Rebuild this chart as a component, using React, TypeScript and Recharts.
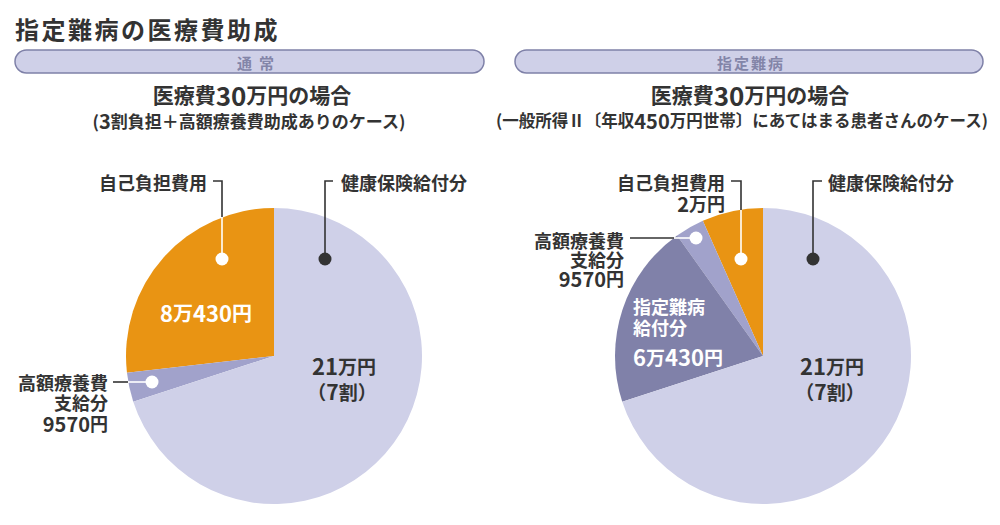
import { Cell, Pie, PieChart } from "recharts"

// 通常 (3割負担＋高額療養費助成)
const normalNames = ["自己負担費用", "高額療養費支給分", "健康保険給付分"]
const normalValues = [80430, 9570, 210000]
const normalColors = ["#e99413", "#a1a2cb", "#cfd0e8"]

// 指定難病 (一般所得Ⅱ)
const nanbyoNames = ["自己負担費用", "高額療養費支給分", "指定難病給付分", "健康保険給付分"]
const nanbyoValues = [20000, 9570, 60430, 210000]
const nanbyoColors = ["#e99413", "#a1a2cb", "#8081a9", "#cfd0e8"]

const normalData = normalNames.map((name, i) => ({ name, value: normalValues[i] }))
const nanbyoData = nanbyoNames.map((name, i) => ({ name, value: nanbyoValues[i] }))

const FONT = "'Noto Sans CJK JP', 'Noto Sans', sans-serif"
const INK = "#333333"
const R = 148

const Pill = ({ x, w, label, tx, ls }: { x: number; w: number; label: string; tx: number; ls: number }) => (
  <g>
    <rect x={x} y={50} width={w} height={23} rx={11.5} fill="#cfd0e8" stroke="#7f81a8" strokeWidth={1.5} />
    <text x={tx} y={62} dominantBaseline="central" fontSize={15} fontWeight={700} fill="#8385a8" letterSpacing={ls}>
      {label}
    </text>
  </g>
)

const Leader = ({ dark, white }: { dark: string; white?: string }) => (
  <g>
    <path d={dark} fill="none" stroke={INK} strokeWidth={1.6} />
    {white && <path d={white} fill="none" stroke="#fff" strokeWidth={1.6} />}
  </g>
)

const Dot = ({ x, y, fill }: { x: number; y: number; fill: string }) => <circle cx={x} cy={y} r={6.5} fill={fill} />

type TProps = { x: number; y: number; size?: number; fill?: string; anchor?: "start" | "middle" | "end"; children: any }
const T = ({ x, y, size = 18, fill = INK, anchor = "start", children }: TProps) => (
  <text x={x} y={y} textAnchor={anchor} dominantBaseline="central" fontSize={size} fill={fill}>
    {children}
  </text>
)

export default function App() {
  return (
    <div style={{ position: "absolute", left: 0, top: 0, width: 1000, height: 525, background: "#fff" }}>
      <PieChart width={1000} height={525} margin={{ top: 0, right: 0, bottom: 0, left: 0 }}>
        <Pie
          data={normalData}
          dataKey="value"
          nameKey="name"
          cx={274}
          cy={356}
          outerRadius={R}
          startAngle={90}
          endAngle={450}
          stroke="none"
          isAnimationActive={false}
        >
          {normalData.map((d, i) => (
            <Cell key={d.name} fill={normalColors[i]} />
          ))}
        </Pie>
        <Pie
          data={nanbyoData}
          dataKey="value"
          nameKey="name"
          cx={763}
          cy={356}
          outerRadius={R}
          startAngle={90}
          endAngle={450}
          stroke="none"
          isAnimationActive={false}
        >
          {nanbyoData.map((d, i) => (
            <Cell key={d.name} fill={nanbyoColors[i]} />
          ))}
        </Pie>
      </PieChart>

      <svg
        width={1000}
        height={525}
        style={{ position: "absolute", left: 0, top: 0, pointerEvents: "none" }}
        fontFamily={FONT}
        fontWeight={700}
      >
        <text x={15} y={28} dominantBaseline="central" fontSize={24} fill={INK} letterSpacing={2.5}>
          指定難病の医療費助成
        </text>

        <Pill x={15} w={469} label="通常" tx={237} ls={7} />
        <Pill x={515} w={468} label="指定難病" tx={717} ls={2} />

        <T x={252} y={94} size={21} anchor="middle">
          医療費<tspan fontSize={26}>30</tspan>万円の場合
        </T>
        <T x={249} y={120} size={17} anchor="middle">
          (<tspan fontSize={20}>3</tspan>割負担＋高額療養費助成ありのケース)
        </T>
        <T x={750} y={94} size={21} anchor="middle">
          医療費<tspan fontSize={26}>30</tspan>万円の場合
        </T>
        <T x={742} y={120} size={16.5} anchor="middle">
          (一般所得Ⅱ〔年収<tspan fontSize={20}>450</tspan>万円世帯〕にあてはまる患者さんのケース)
        </T>

        {/* left pie annotations */}
        <Leader dark="M213,181 H222 V217" white="M222,217 V259" />
        <Dot x={222} y={259} fill="#fff" />
        <T x={207} y={182} anchor="end">自己負担費用</T>
        <Leader dark="M333,181 H325 V259" />
        <Dot x={325} y={259} fill={INK} />
        <T x={341} y={182}>健康保険給付分</T>
        <Leader dark="M113,382 H128" white="M128,382 H152" />
        <Dot x={152} y={382} fill="#fff" />
        <T x={108} y={382} anchor="end">高額療養費</T>
        <T x={108} y={402} anchor="end">支給分</T>
        <T x={108} y={423} size={20} anchor="end">
          9570<tspan fontSize={18}>円</tspan>
        </T>
        <T x={206} y={312} size={20} fill="#fff" anchor="middle">
          <tspan fontSize={22}>8</tspan>万<tspan fontSize={22}>430</tspan>円
        </T>
        <T x={344} y={365} size={19} anchor="middle">
          <tspan fontSize={22}>21</tspan>万円
        </T>
        <T x={342} y={391} size={19} anchor="middle">
          （<tspan fontSize={21}>7</tspan>割）
        </T>

        {/* right pie annotations */}
        <Leader dark="M731,181 H741 V210" white="M741,210 V259" />
        <Dot x={741} y={259} fill="#fff" />
        <T x={725} y={182} anchor="end">自己負担費用</T>
        <T x={725} y={203} anchor="end">
          <tspan fontSize={20}>2</tspan>万円
        </T>
        <Leader dark="M822,181 H813 V259" />
        <Dot x={813} y={259} fill={INK} />
        <T x={828} y={182}>健康保険給付分</T>
        <Leader dark="M630,238 H674" white="M674,238 H696" />
        <Dot x={696} y={238} fill="#fff" />
        <T x={624} y={240} anchor="end">高額療養費</T>
        <T x={624} y={259} anchor="end">支給分</T>
        <T x={624} y={278} size={20} anchor="end">
          9570<tspan fontSize={18}>円</tspan>
        </T>
        <T x={633} y={306} fill="#fff">指定難病</T>
        <T x={633} y={327} fill="#fff">給付分</T>
        <T x={633} y={356} size={19} fill="#fff">
          <tspan fontSize={22}>6</tspan>万<tspan fontSize={22}>430</tspan>円
        </T>
        <T x={832} y={365} size={19} anchor="middle">
          <tspan fontSize={22}>21</tspan>万円
        </T>
        <T x={830} y={391} size={19} anchor="middle">
          （<tspan fontSize={21}>7</tspan>割）
        </T>
      </svg>
    </div>
  )
}
